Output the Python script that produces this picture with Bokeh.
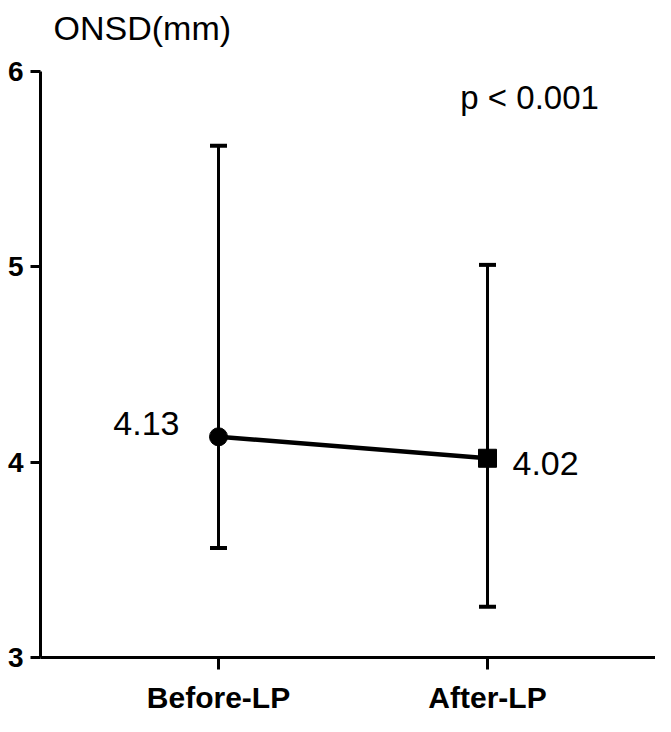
from bokeh.plotting import figure
from bokeh.models import (ColumnDataSource, Whisker, TeeHead, Range1d, FixedTicker, Label, Title)
from bokeh.core.properties import value
from bokeh.embed import file_html
from bokeh.resources import INLINE

# ---- data ----
groups = ["Before-LP", "After-LP"]
means = [4.13, 4.02]
upper = [5.62, 5.01]
lower = [3.56, 3.26]
y_ticks = [3, 4, 5, 6]
y_label = "ONSD(mm)"
p_text = "p < 0.001"

FONT = "Liberation Sans, Arial, sans-serif"

xs = list(range(len(groups)))
src = ColumnDataSource(dict(x=xs, mean=means, upper=upper, lower=lower,
                            marker=["circle", "square"]))

p = figure(width=655, height=716, output_backend="svg", toolbar_location=None, title=None,
           x_range=Range1d(-0.6617, 1.6245), y_range=Range1d(3, 6),
           min_border_left=40, min_border_right=0, min_border_top=71, min_border_bottom=58)
p.outline_line_color = None
p.grid.visible = False
p.background_fill_color = "white"
p.border_fill_color = "white"

xax = p.below[0]
yax = p.left[0]

# axes
for ax in (xax, yax):
    ax.axis_line_width = 3
    ax.axis_line_color = "black"
    ax.major_tick_line_width = 3
    ax.major_tick_line_color = "black"
    ax.major_tick_in = 0
    ax.minor_tick_line_color = None
    ax.major_label_text_font = FONT
    ax.major_label_text_font_style = "bold"
    ax.major_label_text_color = "black"

yax.ticker = FixedTicker(ticks=y_ticks)
yax.major_tick_out = 10
yax.major_label_text_font_size = "28px"
yax.major_label_standoff = 7

xax.ticker = FixedTicker(ticks=xs)
xax.major_label_overrides = {i: g for i, g in zip(xs, groups)}
xax.major_tick_out = 12
xax.major_label_text_font_size = "30px"
xax.major_label_standoff = 11

# spacer panel between the frame and the unit title (first "above" panel sits next to the frame)
p.add_layout(Title(text=" ", text_font=FONT, text_font_size="10px", standoff=12), "above")

# unit title
p.add_layout(Title(text=y_label, align="left", offset=13, standoff=0, text_font=FONT,
                   text_font_size="34px", text_font_style="normal", text_color="black"),
             "above")

# error bars
wh = Whisker(base="x", upper="upper", lower="lower", source=src, dimension="height",
             line_width=3, line_color="black",
             upper_head=TeeHead(size=17, line_width=4, line_color="black"),
             lower_head=TeeHead(size=17, line_width=4, line_color="black"))
p.add_layout(wh)

# connecting line and markers
p.line("x", "mean", source=src, line_width=4.5, line_color="black")
p.scatter("x", "mean", source=src, marker="marker", size=18,
          fill_color="black", line_color="black")

# mean labels
p.text(x=[xs[0]], y=[means[0]], text=[f"{means[0]:.2f}"], x_offset=-39, y_offset=-13,
       text_align="right", text_baseline="middle", text_font=value(FONT),
       text_font_size="34px", text_color="black")
p.text(x=[xs[1]], y=[means[1]], text=[f"{means[1]:.2f}"], x_offset=25, y_offset=5,
       text_align="left", text_baseline="middle", text_font=value(FONT),
       text_font_size="34px", text_color="black")

# p-value
p.add_layout(Label(x=0.899, y=5.867, text=p_text, text_font=FONT, text_font_size="33px",
                   text_align="left", text_baseline="middle", text_color="black"))

open("out.html", "w").write(file_html(p, INLINE))
